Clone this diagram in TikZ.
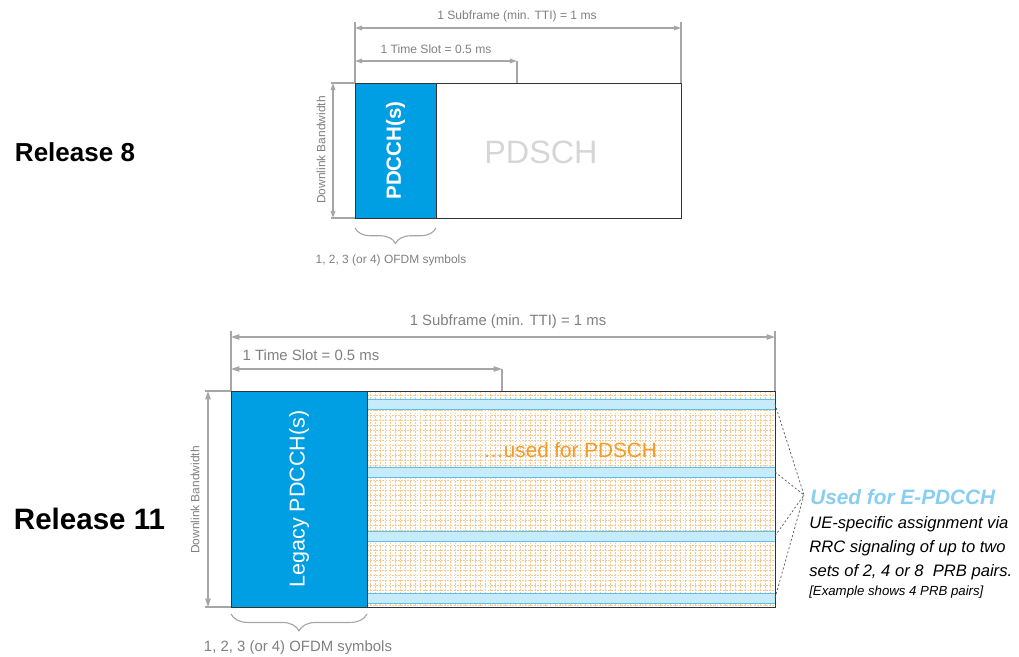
\documentclass[tikz,border=0pt]{standalone}
\usepackage{fontspec}
\setmainfont{Liberation Sans}
\usetikzlibrary{arrows.meta,calc,decorations.pathreplacing}
\definecolor{pdcchblue}{RGB}{0,158,227}
\definecolor{stripeblue}{RGB}{198,235,250}
\definecolor{stripeedge}{RGB}{96,190,236}
\definecolor{dimgray}{RGB}{166,166,166}
\definecolor{labelgray}{RGB}{128,128,128}
\definecolor{gridorange}{RGB}{249,200,140}
\definecolor{textorange}{RGB}{243,156,40}
\definecolor{epdcchblue}{RGB}{135,206,242}
\def\pxfont#1{\fontsize{#1pt}{#1pt}\selectfont}
\tikzset{
	boxline/.style={draw=black!80, line width=0.7pt},
	dimline/.style={draw=dimgray, line width=0.8pt},
	dimarrow/.style={dimline, {Triangle[length=#1,width=0.65*#1]}-{Triangle[length=#1,width=0.65*#1]}},
	dimlabel/.style={text=labelgray, inner sep=0pt},
	ofdmbrace/.style={dimline, decorate, decoration={brace, mirror, amplitude=#1}},
	gridline/.style={draw=gridorange, line width=0.2pt, dash pattern=on 1.3pt off 0.9pt},
	stripe/.style={fill=stripeblue, draw=stripeedge, line width=0.7pt},
	pointer/.style={draw=black!65, line width=0.5pt, dash pattern=on 1.5pt off 1.5pt},
}

\begin{document}
\begin{tikzpicture}[x=0.025cm, y=-0.025cm]
				\useasboundingbox (0,0) rectangle (1019,657);
				
				\node[anchor=west, font=\bfseries\pxfont{18.5}] (rel8) at (10,152) {Release 8};
				
				\coordinate (r8nw) at (355,83);
				\coordinate (r8se) at (681,218);
				\coordinate (r8ne) at (681,83);
				\coordinate (r8sw) at (355,218);
				\coordinate (r8cs) at (436,218);
				
				\draw[boxline] (r8nw) rectangle (r8se);
				\draw[boxline, fill=pdcchblue] (r8nw) rectangle (r8cs);
				\node[rotate=90, text=white, font=\bfseries\pxfont{14.6}] (pdcch8) at ($(r8nw)!0.5!(r8cs)$) {PDCCH(s)};
				\node[text=black!16, font=\pxfont{23}] (pdsch8) at (541,152) {PDSCH};
				
				\draw[dimline] (r8nw) -- (355,22);
				\draw[dimline] (r8ne) -- (681,22);
				\draw[dimline] (517,83) -- (517,61);
				\draw[dimarrow=5pt] (355,28) -- (681,28);
				\draw[dimarrow=5pt] (355,61) -- (517,61);
				\node[dimlabel, font=\pxfont{8.6}] (sub8) at (517,16) {1 Subframe (min. TTI) = 1 ms};
				\node[dimlabel, font=\pxfont{8.6}] (slot8) at (436,49) {1 Time Slot = 0.5 ms};
				
				\draw[dimline] (331,83) -- (r8nw);
				\draw[dimline] (331,218) -- (r8sw);
				\draw[dimarrow=5pt] (333,83) -- (333,218);
				\node[dimlabel, rotate=90, font=\pxfont{8.5}] (bw8) at (321,150) {Downlink Bandwidth};
				
				\draw[ofdmbrace=11pt] (355,228) -- (436,228);
				\node[dimlabel, font=\pxfont{8.5}] (ofdm8) at (391,260) {1, 2, 3 (or 4) OFDM symbols};
				
				\node[anchor=west, font=\bfseries\pxfont{21}] (rel11) at (9,519) {Release 11};
				
				\coordinate (r11nw) at (231,391);
				\coordinate (r11se) at (775,607);
				\coordinate (r11ne) at (775,391);
				\coordinate (r11sw) at (231,607);
				\coordinate (r11cs) at (367,607);
				
				\fill[white] (367,391) rectangle (r11se);
				\foreach \gx in {370,375,...,770} \draw[gridline] (\gx,391) -- (\gx,607);
				\foreach \gy in {395,400,...,605} \draw[gridline] (367,\gy) -- (775,\gy);
				\node[text=textorange, font=\pxfont{14.7}] (pdsch11) at (570,450) {…used for PDSCH};
				
				\draw[stripe] (367,399) rectangle (775,409);
				\draw[stripe] (367,467) rectangle (775,477);
				\draw[stripe] (367,531) rectangle (775,541);
				\draw[stripe] (367,593) rectangle (775,603);
				
				\draw[boxline] (r11nw) rectangle (r11se);
				\draw[boxline, fill=pdcchblue] (r11nw) rectangle (r11cs);
				\node[rotate=90, text=white, font=\pxfont{15.3}] (pdcch11) at ($(r11nw)!0.5!(r11cs)$) {Legacy PDCCH(s)};
				
				\draw[dimline] (r11nw) -- (231,331);
				\draw[dimline] (r11ne) -- (775,331);
				\draw[dimline] (502,391) -- (502,369);
				\draw[dimarrow=6pt] (231,337) -- (775,337);
				\draw[dimarrow=6pt] (231,369) -- (502,369);
				\node[dimlabel, font=\pxfont{10.6}] (sub11) at (508,322) {1 Subframe (min. TTI) = 1 ms};
				\node[dimlabel, font=\pxfont{10.6}] (slot11) at (311,355) {1 Time Slot = 0.5 ms};
				
				\draw[dimline] (205,391) -- (r11nw);
				\draw[dimline] (205,607) -- (r11sw);
				\draw[dimarrow=6pt] (208,391) -- (208,607);
				\node[dimlabel, rotate=90, font=\pxfont{8.5}] (bw11) at (195,500) {Downlink Bandwidth};
				
				\draw[ofdmbrace=12pt] (231,614) -- (367,614);
				\node[dimlabel, font=\pxfont{10.6}] (ofdm11) at (298,648) {1, 2, 3 (or 4) OFDM symbols};
				
				\coordinate (apex) at (804,495);
				\draw[pointer] (775,404) -- (apex);
				\draw[pointer] (775,472) -- (apex);
				\draw[pointer] (775,536) -- (apex);
				\draw[pointer] (775,598) -- (apex);
				
				\node[anchor=base west, inner sep=0pt, text=epdcchblue, font=\bfseries\itshape\pxfont{14.8}] (epdcch) at (810,504) {Used for E-PDCCH};
				\node[anchor=base west, inner sep=0pt, font=\itshape\pxfont{11.8}] (ue) at (809,528) {UE-specific assignment via};
				\node[anchor=base west, inner sep=0pt, font=\itshape\pxfont{11.8}] (rrc) at (809,552) {RRC signaling of up to two};
				\node[anchor=base west, inner sep=0pt, font=\itshape\pxfont{11.8}] (sets) at (809,576) {sets of 2, 4 or 8~ PRB pairs.};
				\node[anchor=base west, inner sep=0pt, font=\itshape\pxfont{9.4}] (example) at (809,595) {[Example shows 4 PRB pairs]};
			\end{tikzpicture}
\end{document}
